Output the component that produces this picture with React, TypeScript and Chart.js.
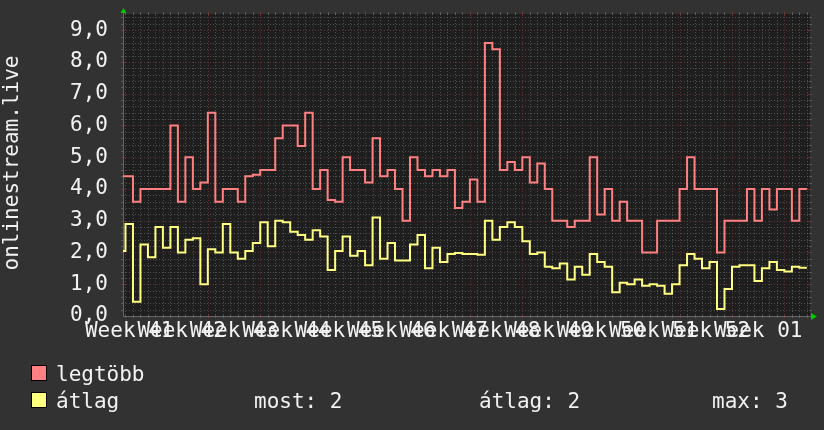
import React, { useEffect, useRef } from "react";
import { Chart, registerables } from "chart.js";

Chart.register(...registerables);

// ---- data (one value per day, starting at day index FIRST_DAY) ----
const FIRST_DAY = 2;
const maxValues = [
  4.4, 4.4, 3.6, 4.0, 4.0, 4.0, 4.0, 6.0, 3.6, 5.0,
  4.0, 4.2, 6.4, 3.6, 4.0, 4.0, 3.6, 4.4, 4.45, 4.6,
  4.6, 5.6, 6.0, 6.0, 5.35, 6.4, 4.0, 4.6, 3.65, 3.6,
  5.0, 4.6, 4.6, 4.2, 5.6, 4.4, 4.6, 4.0, 3.0, 5.0,
  4.6, 4.4, 4.6, 4.4, 4.6, 3.4, 3.6, 4.3, 3.6, 8.6,
  8.4, 4.6, 4.85, 4.6, 5.0, 4.2, 4.8, 4.0, 3.0, 3.0,
  2.8, 3.0, 3.0, 5.0, 3.2, 4.0, 3.0, 3.6, 3.0, 3.0,
  2.0, 2.0, 3.0, 3.0, 3.0, 4.0, 5.0, 4.0, 4.0, 4.0,
  2.0, 3.0, 3.0, 3.0, 4.0, 3.0, 4.0, 3.35, 4.0, 4.0,
  3.0, 4.0,
];
const avgValues = [
  2.05, 2.9, 0.45, 2.25, 1.85, 2.8, 2.15, 2.8, 2.0, 2.4,
  2.45, 1.0, 2.1, 2.0, 2.9, 2.0, 1.8, 2.05, 2.3, 2.95,
  2.2, 3.0, 2.95, 2.65, 2.55, 2.4, 2.7, 2.5, 1.45, 2.05,
  2.5, 1.9, 2.05, 1.6, 3.1, 1.8, 2.3, 1.75, 1.75, 2.25,
  2.55, 1.5, 2.15, 1.7, 1.95, 1.98, 1.95, 1.95, 1.93, 3.0,
  2.4, 2.8, 2.95, 2.8, 2.35, 1.95, 2.0, 1.55, 1.5, 1.65,
  1.15, 1.55, 1.3, 1.95, 1.7, 1.55, 0.75, 1.05, 1.0, 1.15,
  0.95, 1.0, 0.95, 0.7, 1.0, 1.6, 1.95, 1.8, 1.5, 1.7,
  0.22, 0.85, 1.55, 1.6, 1.6, 1.1, 1.5, 1.7, 1.45, 1.4,
  1.55, 1.52,
];
const weekLabels = [
  "Week 41", "Week 42", "Week 43", "Week 44", "Week 45", "Week 46", "Week 47",
  "Week 48", "Week 49", "Week 50", "Week 51", "Week 52", "Week 01",
];
const yTicks = [0, 1, 2, 3, 4, 5, 6, 7, 8, 9];
const seriesNames = ["legtöbb", "átlag"];
const statTexts = ["most: 2", "átlag: 2", "max: 3"];
const yTitle = "onlinestream.live";

// ---- axis extents (days since start of week 41) ----
const X_MIN = 2.67;
const X_MAX = 94.42;
const Y_MAX = 9.51;

const FONT = "'DejaVu Sans Mono', monospace";
const RED = "#ff8080";
const YELLOW = "#ffff80";
const TEXT = "#f2f2f2";
const BG = "#323232";
const PLOT_BG = "#1e1e1e";

function toPoints(values: number[]) {
  const pts = values.map((v, i) => ({ x: FIRST_DAY + i, y: v }));
  pts.push({ x: FIRST_DAY + values.length, y: values[values.length - 1] });
  return pts;
}

const gridPlugin = {
  id: "rrdGrid",
  beforeDraw(chart: any) {
    const { ctx, chartArea } = chart;
    ctx.save();
    ctx.fillStyle = BG;
    ctx.fillRect(0, 0, chart.width, chart.height);
    ctx.fillStyle = PLOT_BG;
    ctx.fillRect(chartArea.left, chartArea.top, chartArea.right - chartArea.left, chartArea.bottom - chartArea.top + 1);
    ctx.restore();
  },
  beforeDatasetsDraw(chart: any) {
    const { ctx, chartArea, scales } = chart;
    const xs = scales.x, ys = scales.y;
    const L = chartArea.left, R = chartArea.right, T = chartArea.top, B = chartArea.bottom;
    ctx.save();
    ctx.lineWidth = 1;
    const minorCol = "rgba(120,120,120,0.55)";
    const majorCol = "rgba(140,60,60,0.6)";
    // minor vertical (daily)
    for (let d = Math.ceil(X_MIN); d <= X_MAX; d++) {
      if (d % 7 === 0) continue;
      const x = Math.round(xs.getPixelForValue(d)) + 0.5;
      ctx.strokeStyle = minorCol;
      ctx.setLineDash([1, 2]);
      ctx.beginPath(); ctx.moveTo(x, T); ctx.lineTo(x, B); ctx.stroke();
      ctx.setLineDash([]);
      ctx.beginPath(); ctx.moveTo(x, T - 2); ctx.lineTo(x, T + 1); ctx.moveTo(x, B - 1); ctx.lineTo(x, B + 2); ctx.stroke();
    }
    // minor horizontal (0.2)
    for (let i = 1; i * 0.2 <= Y_MAX; i++) {
      if (i % 5 === 0) continue;
      const y = Math.round(ys.getPixelForValue(i * 0.2)) + 0.5;
      ctx.strokeStyle = minorCol;
      ctx.setLineDash([1, 2]);
      ctx.beginPath(); ctx.moveTo(L, y); ctx.lineTo(R, y); ctx.stroke();
      ctx.setLineDash([]);
      ctx.beginPath(); ctx.moveTo(L - 2, y); ctx.lineTo(L + 1, y); ctx.moveTo(R - 1, y); ctx.lineTo(R + 2, y); ctx.stroke();
    }
    // major vertical (weekly)
    for (let d = 7; d <= X_MAX; d += 7) {
      if (d < X_MIN) continue;
      const x = Math.round(xs.getPixelForValue(d)) + 0.5;
      ctx.strokeStyle = majorCol;
      ctx.setLineDash([1, 2]);
      ctx.beginPath(); ctx.moveTo(x, T); ctx.lineTo(x, B); ctx.stroke();
      ctx.setLineDash([]);
      ctx.beginPath(); ctx.moveTo(x, T - 2); ctx.lineTo(x, T + 2); ctx.moveTo(x, B - 2); ctx.lineTo(x, B + 2); ctx.stroke();
    }
    // major horizontal
    for (const v of yTicks) {
      if (v === 0) continue;
      const y = Math.round(ys.getPixelForValue(v)) + 0.5;
      ctx.strokeStyle = majorCol;
      ctx.setLineDash([1, 2]);
      ctx.beginPath(); ctx.moveTo(L, y); ctx.lineTo(R, y); ctx.stroke();
      ctx.setLineDash([]);
      ctx.beginPath(); ctx.moveTo(L - 2, y); ctx.lineTo(L + 2, y); ctx.moveTo(R - 2, y); ctx.lineTo(R + 2, y); ctx.stroke();
    }
    // axes
    ctx.strokeStyle = "rgba(110,110,110,0.9)";
    ctx.beginPath();
    ctx.moveTo(L + 0.5, T - 2); ctx.lineTo(L + 0.5, B + 0.5); ctx.lineTo(R + 3, B + 0.5);
    ctx.stroke();
    ctx.restore();
  },
  afterDraw(chart: any) {
    const { ctx, chartArea } = chart;
    const L = chartArea.left, R = chartArea.right, T = chartArea.top, B = chartArea.bottom;
    ctx.save();
    // green arrows
    ctx.fillStyle = "#00cc00";
    ctx.beginPath();
    ctx.moveTo(L - 2.5, T - 1); ctx.lineTo(L + 3.5, T - 1); ctx.lineTo(L + 0.5, T - 6);
    ctx.closePath(); ctx.fill();
    ctx.beginPath();
    ctx.moveTo(R + 1, B - 3); ctx.lineTo(R + 1, B + 4); ctx.lineTo(R + 7, B + 0.5);
    ctx.closePath(); ctx.fill();

    // y title
    ctx.fillStyle = TEXT;
    ctx.font = `21px ${FONT}`;
    ctx.save();
    ctx.translate(18, 163);
    ctx.rotate(-Math.PI / 2);
    ctx.textAlign = "center";
    ctx.textBaseline = "alphabetic";
    ctx.fillText(yTitle, 0, 0);
    ctx.restore();

    // legend
    const colors = [RED, YELLOW];
    const rows = [381, 408];
    ctx.textAlign = "left";
    ctx.textBaseline = "alphabetic";
    seriesNames.forEach((name, i) => {
      const top = rows[i] - 16;
      ctx.fillStyle = colors[i];
      ctx.fillRect(31, top, 16, 16);
      ctx.strokeStyle = "#000";
      ctx.lineWidth = 1;
      ctx.strokeRect(31.5, top + 0.5, 15, 15);
      ctx.fillStyle = TEXT;
      ctx.fillText(name, 56, rows[i]);
    });
    const statX = [254, 479, 712];
    statTexts.forEach((t, i) => ctx.fillText(t, statX[i], rows[1]));
    ctx.restore();
  },
};

export default function App() {
  const ref = useRef<HTMLCanvasElement | null>(null);
  useEffect(() => {
    if (!ref.current) return;
    const chart = new Chart(ref.current, {
      type: "line",
      data: {
        datasets: [
          {
            label: seriesNames[0],
            data: toPoints(maxValues),
            borderColor: RED,
            borderWidth: 2,
            pointRadius: 0,
            stepped: "before",
            fill: false,
          },
          {
            label: seriesNames[1],
            data: toPoints(avgValues),
            borderColor: YELLOW,
            borderWidth: 2,
            pointRadius: 0,
            stepped: "before",
            fill: false,
          },
        ],
      },
      options: {
        responsive: false,
        animation: false,
        devicePixelRatio: 1,
        events: [],
        layout: { padding: { top: 14, right: 14, left: 0, bottom: 0 } },
        plugins: { legend: { display: false }, tooltip: { enabled: false } },
        scales: {
          x: {
            type: "linear",
            min: X_MIN,
            max: X_MAX,
            grid: { display: false, drawTicks: false },
            border: { display: false },
            ticks: {
              autoSkip: false,
              maxRotation: 0,
              minRotation: 0,
              padding: 3,
              color: TEXT,
              font: { family: FONT, size: 21 },
              callback: (_v: any, i: number) => weekLabels[i],
            },
            afterBuildTicks: (s: any) => {
              s.ticks = weekLabels.map((_, i) => ({ value: 3.5 + 7 * i }));
            },
            afterFit: (s: any) => {
              s.height = 114;
              s.paddingLeft = 0;
              s.paddingRight = 0;
            },
          },
          y: {
            type: "linear",
            min: 0,
            max: Y_MAX,
            grid: { display: false, drawTicks: false },
            border: { display: false },
            ticks: {
              padding: 15,
              color: TEXT,
              font: { family: FONT, size: 21 },
              callback: (v: any) => Number(v).toFixed(1).replace(".", ","),
            },
            afterBuildTicks: (s: any) => {
              s.ticks = yTicks.map((v) => ({ value: v }));
            },
            afterFit: (s: any) => {
              s.width = 123;
              s.paddingTop = 0;
              s.paddingBottom = 0;
            },
          },
        },
      } as any,
      plugins: [gridPlugin],
    });
    return () => chart.destroy();
  }, []);
  return (
    <div style={{ position: "absolute", left: 0, top: 0, width: 824, height: 430, background: BG }}>
      <canvas ref={ref} width={824} height={430} style={{ display: "block", width: 824, height: 430 }} />
    </div>
  );
}
